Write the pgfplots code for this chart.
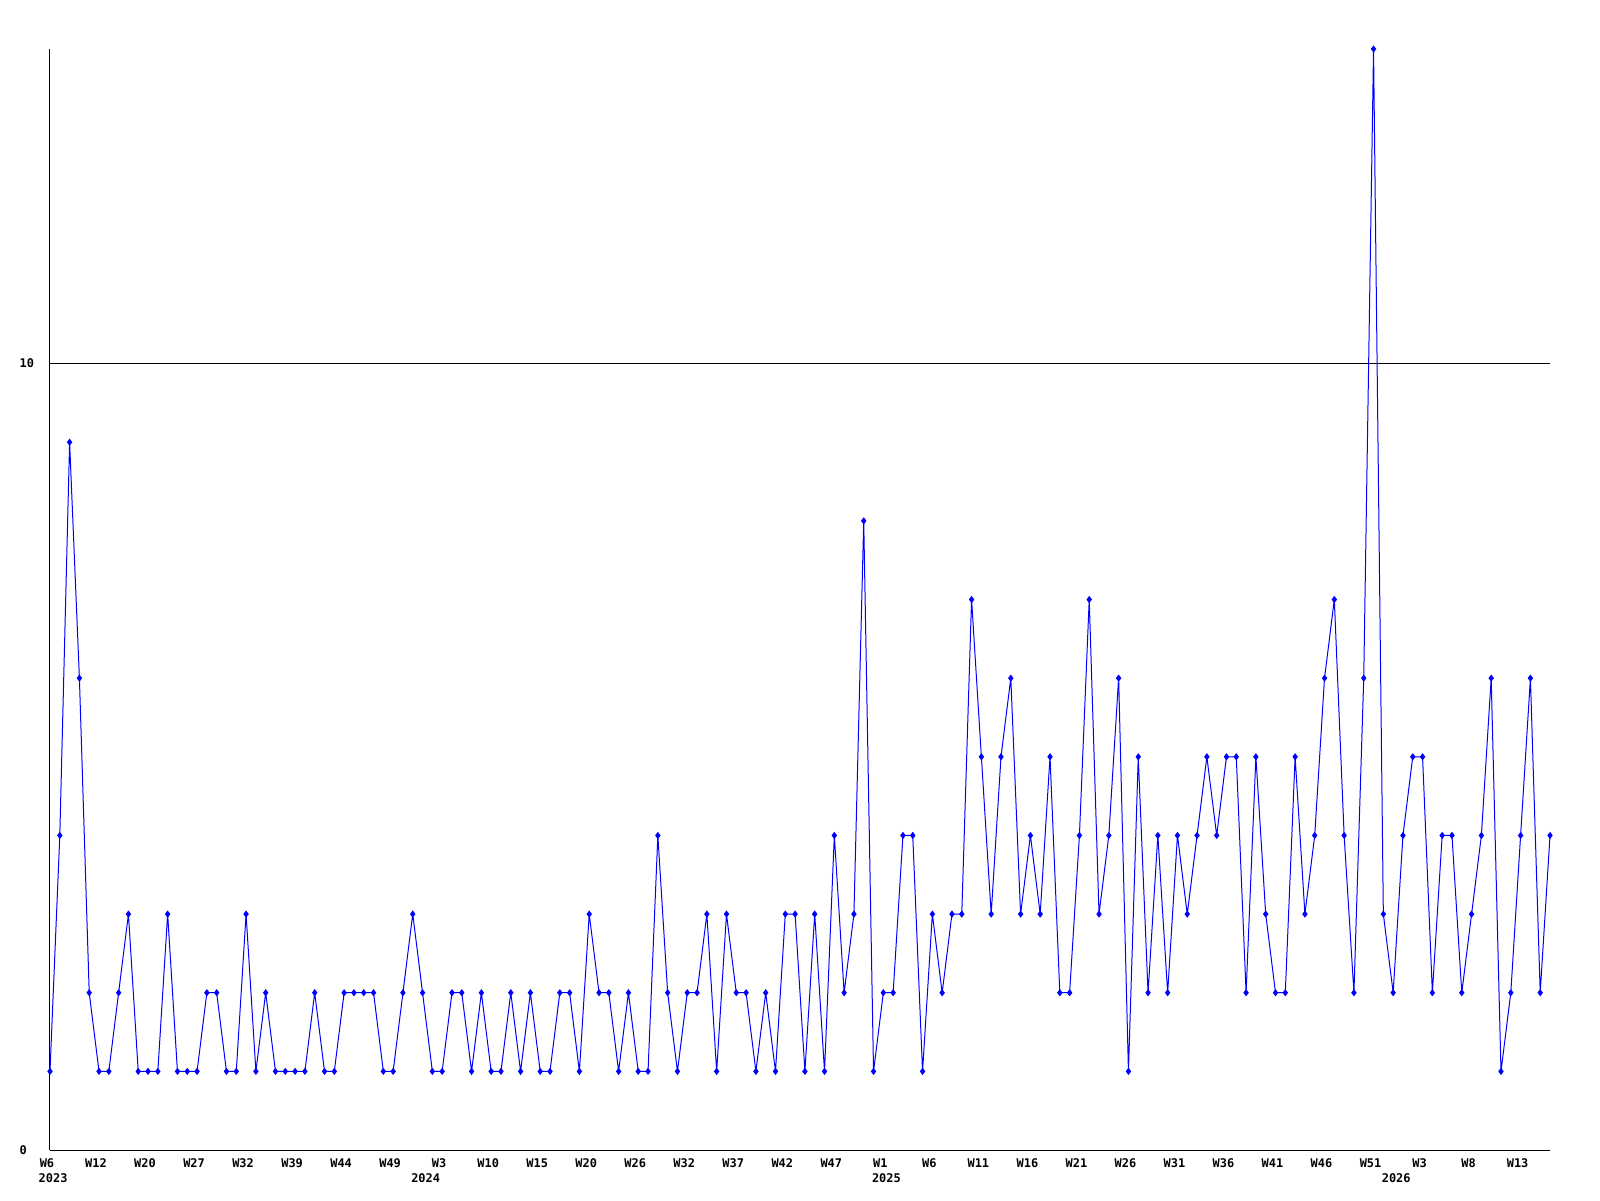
\documentclass[border=0pt]{standalone}
\usepackage{fontspec}
\usepackage{pgfplots}
\pgfplotsset{compat=1.18}
\newfontfamily\labelfont{DejaVu Sans Mono}
\definecolor{lineblue}{RGB}{0,0,255}
\begin{document}
\begin{tikzpicture}
\path[use as bounding box] (0,0) rectangle (16cm,12cm);
\begin{axis}[
  at={(0.5cm,0.5cm)}, anchor=south west,
  scale only axis, width=15cm, height=11.01cm,
  xmin=0, xmax=153, ymin=0, ymax=14,
  axis lines*=left,
  axis line style={black, line width=0.01cm},
  major tick length=0pt,
  ytick={0,10}, yticklabels={0,10},
  ymajorgrids, major grid style={black, line width=0.01cm},
  xtick={0,5,...,150},
  xticklabels={W6,W12,W20,W27,W32,W39,W44,W49,W3,W10,W15,W20,W26,W32,W37,W42,W47,W1,W6,W11,W16,W21,W26,W31,W36,W41,W46,W51,W3,W8,W13},
  /pgf/number format/assume math mode=true,
  ticklabel style={font=\labelfont\bfseries\fontsize{3.4pt}{4pt}\selectfont, inner sep=0pt},
  xticklabel style={anchor=north, yshift=-0.08cm, xshift=-0.03cm},
  yticklabel style={anchor=west, xshift=-0.31cm},
  extra x ticks={0,38,85,137},
  extra x tick labels={2023,2024,2025,2026},
  extra x tick style={grid=none, major tick length=0pt, xticklabel style={anchor=north west, yshift=-0.145cm, xshift=-0.09cm}},
  clip=false,
]
\addplot[color=lineblue, line width=0.01cm, mark=diamond*, mark size=0.028cm, mark options={fill=lineblue, draw=lineblue}] table {
x y
0 1
1 4
2 9
3 6
4 2
5 1
6 1
7 2
8 3
9 1
10 1
11 1
12 3
13 1
14 1
15 1
16 2
17 2
18 1
19 1
20 3
21 1
22 2
23 1
24 1
25 1
26 1
27 2
28 1
29 1
30 2
31 2
32 2
33 2
34 1
35 1
36 2
37 3
38 2
39 1
40 1
41 2
42 2
43 1
44 2
45 1
46 1
47 2
48 1
49 2
50 1
51 1
52 2
53 2
54 1
55 3
56 2
57 2
58 1
59 2
60 1
61 1
62 4
63 2
64 1
65 2
66 2
67 3
68 1
69 3
70 2
71 2
72 1
73 2
74 1
75 3
76 3
77 1
78 3
79 1
80 4
81 2
82 3
83 8
84 1
85 2
86 2
87 4
88 4
89 1
90 3
91 2
92 3
93 3
94 7
95 5
96 3
97 5
98 6
99 3
100 4
101 3
102 5
103 2
104 2
105 4
106 7
107 3
108 4
109 6
110 1
111 5
112 2
113 4
114 2
115 4
116 3
117 4
118 5
119 4
120 5
121 5
122 2
123 5
124 3
125 2
126 2
127 5
128 3
129 4
130 6
131 7
132 4
133 2
134 6
135 14
136 3
137 2
138 4
139 5
140 5
141 2
142 4
143 4
144 2
145 3
146 4
147 6
148 1
149 2
150 4
151 6
152 2
153 4
};
\end{axis}
\end{tikzpicture}
\end{document}
